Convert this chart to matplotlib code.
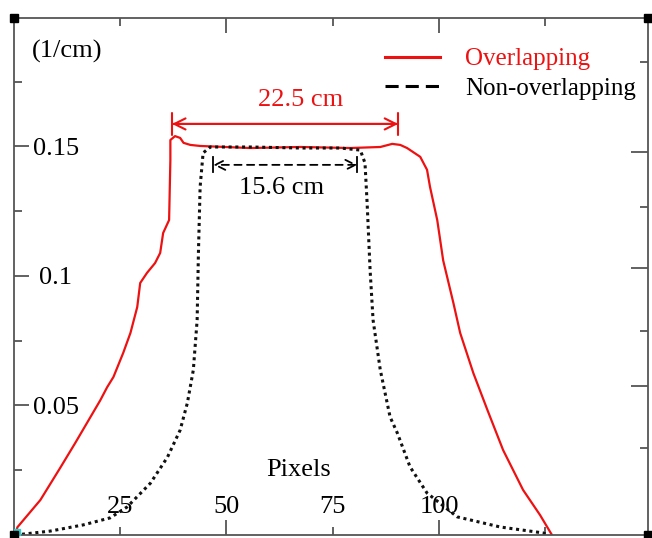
import matplotlib
matplotlib.use("Agg")
import matplotlib.pyplot as plt
from matplotlib.lines import Line2D

plt.rcParams['font.family'] = ['Liberation Serif', 'DejaVu Serif']

# profile data (x in pixels, y in 1/cm)
red_x = [0.3, 0.8, 6.2, 10.9, 14.4, 20.3, 21.9, 23.4, 25.7, 27.4, 29.0, 29.7,
         31.3, 33.2, 34.4, 35.1, 36.5, 36.8, 36.8, 37.9, 39.1, 39.9, 41.5, 43.8,
         55.6, 67.4, 79.1, 86.2, 89.0, 90.9, 92.5, 95.6, 97.2, 97.9, 99.6, 101.0,
         103.4, 105.0, 108.1, 111.4, 115.1, 119.8, 123.8, 126.6]
red_y = [0.0, 0.003, 0.0135, 0.026, 0.0355, 0.052, 0.057, 0.061, 0.0703, 0.078,
         0.088, 0.0973, 0.1012, 0.105, 0.1089, 0.1166, 0.1216, 0.1448, 0.1525,
         0.154, 0.1533, 0.1514, 0.1506, 0.1502, 0.1494, 0.1498, 0.1494, 0.1498,
         0.151, 0.1506, 0.1494, 0.146, 0.141, 0.1344, 0.1216, 0.106, 0.0896,
         0.078, 0.0625, 0.0483, 0.0328, 0.0174, 0.0077, 0.0]

blk_x = [0.3, 8.5, 16.3, 22.6, 26.6, 32.1, 36.1, 39.1, 40.8, 42.2, 43.1, 43.4,
         43.8, 44.5, 46.2, 55.6, 67.4, 76.8, 81.5, 82.6, 83.1, 83.8, 84.5, 86.2,
         88.5, 90.2, 93.2, 97.2, 104.3, 114.4, 124.5, 125.7]
blk_y = [0.0, 0.0015, 0.0039, 0.0066, 0.0108, 0.020, 0.030, 0.0405, 0.051,
         0.0637, 0.083, 0.1089, 0.1344, 0.1475, 0.1498, 0.1498, 0.1494, 0.1494,
         0.1486, 0.1436, 0.1282, 0.1023, 0.083, 0.0637, 0.0456, 0.0394, 0.0263,
         0.0162, 0.007, 0.0031, 0.0008, 0.0]

x_major = [50, 100]
x_minor = [25, 75, 125]
x_minor_labels = ['25', '75', '']
y_major = [0.05, 0.1, 0.15]
y_major_labels = ['0.05', '0.1', '0.15']
y_minor = [0.025, 0.075, 0.125, 0.175]
# right-hand axis ticks (independent scale in the original)
r_major = [0.289, 0.516, 0.740]
r_minor = [0.169, 0.395, 0.634, 0.915]

fig = plt.figure(figsize=(6.52, 5.38), dpi=100)
W, H = 652, 538
ax = fig.add_axes([14 / W, (H - 535) / H, (648 - 14) / W, (535 - 18) / H])

red = '#ee1111'
ax.plot(red_x, red_y, color=red, lw=1.6)
ax.plot(blk_x, blk_y, color='#111111', lw=2.2, linestyle=(0, (1, 1.2)))

ax.set_xlim(0, 149.2)
ax.set_ylim(0, 0.1996)

spine_col = '#555555'
for s in ax.spines.values():
    s.set_color(spine_col)
    s.set_linewidth(1.3)

ax.set_xticks(x_major)
ax.set_xticklabels(['50', '100'])
ax.set_xticks(x_minor, minor=True)
ax.set_xticklabels(x_minor_labels, minor=True)
ax.set_yticks(y_major)
ax.set_yticklabels(y_major_labels)
ax.set_yticks(y_minor, minor=True)
ax.set_yticklabels([], minor=True)

ax.tick_params(which='both', direction='in', color=spine_col, width=1.3,
               top=True, right=False, labelsize=19)
ax.tick_params(which='major', length=11)
ax.tick_params(which='minor', length=6)
ax.tick_params(axis='x', which='both', pad=-20)
ax.tick_params(axis='y', which='both', pad=-30)
for lab in ax.get_xticklabels(which='both'):
    lab.set_va('center')
for lab in ax.get_yticklabels():
    lab.set_ha('center')

# right side ticks on their own scale
axr = ax.twinx()
axr.set_ylim(0, 1)
axr.set_yticks(r_major)
axr.set_yticks(r_minor, minor=True)
axr.set_yticklabels([])
axr.set_yticklabels([], minor=True)
axr.tick_params(which='both', direction='in', color=spine_col, width=1.3)
axr.tick_params(which='major', length=12)
axr.tick_params(which='minor', length=6)
for s in axr.spines.values():
    s.set_visible(False)

# corner handles
ax.plot([0.004], [0.006], 's', color='#33cccc', ms=4,
        transform=ax.transAxes, clip_on=False, zorder=4)
ax.plot([0, 1, 0, 1], [0, 0, 1, 1], 's', color='black', ms=6,
        transform=ax.transAxes, clip_on=False, zorder=5)

# width annotations
ax.annotate('', xy=(37.2, 0.1587), xytext=(90.4, 0.1587),
            arrowprops=dict(arrowstyle='<->', color=red, lw=1.5,
                            shrinkA=0, shrinkB=0, mutation_scale=20))
ax.annotate('', xy=(37.2, 0.1587), xytext=(90.4, 0.1587),
            arrowprops=dict(arrowstyle='|-|, widthA=0.4, widthB=0.4', color=red,
                            lw=1.5, shrinkA=0, shrinkB=0, mutation_scale=20))
ax.text(67.4, 0.168, '22.5 cm', color=red, fontsize=19, ha='center', va='center')

ax.annotate('', xy=(46.9, 0.1429), xytext=(80.8, 0.1429),
            arrowprops=dict(arrowstyle='<->', color='black', lw=1.3,
                            linestyle=(0, (4, 3)), shrinkA=0, shrinkB=0,
                            mutation_scale=18))
ax.plot([46.9, 46.9], [0.1400, 0.1458], color='black', lw=1.3)
ax.plot([80.8, 80.8], [0.1400, 0.1458], color='black', lw=1.3)
ax.text(62.9, 0.134, '15.6 cm', color='black', fontsize=19, ha='center', va='center')

ax.text(12.6, 0.1865, '(1/cm)', fontsize=19, ha='center', va='center')
ax.text(66.9, 0.0251, 'Pixels', fontsize=19, ha='center', va='center')

handles = [Line2D([], [], color=red, lw=2.2),
           Line2D([], [], color='black', lw=2.2, linestyle=(0, (4.3, 2.3)))]
leg = ax.legend(handles, ['Overlapping', 'Non-overlapping'], loc='upper left',
                bbox_to_anchor=(0.585, 0.942), frameon=False, fontsize=18,
                handlelength=2.2, handletextpad=1.0, labelspacing=0.28,
                borderpad=0, borderaxespad=0)
leg.get_texts()[0].set_color(red)

fig.savefig('out.png', dpi=100)
